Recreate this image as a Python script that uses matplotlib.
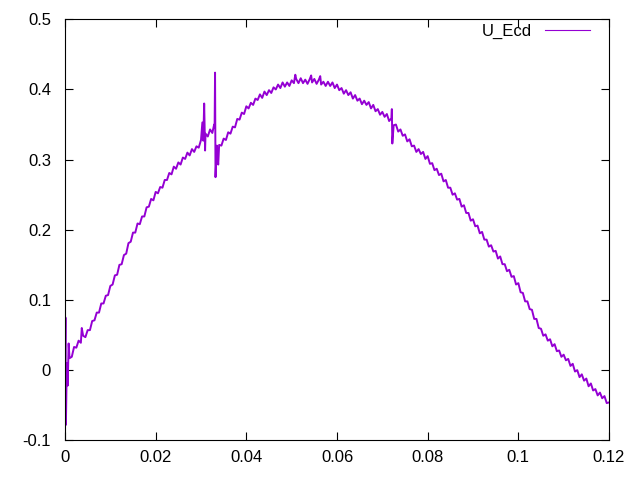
import numpy as np
import matplotlib
matplotlib.use("Agg")
import matplotlib.pyplot as plt
from matplotlib.lines import Line2D
from matplotlib.ticker import FormatStrFormatter

plt.rcParams["font.family"] = ["Liberation Sans", "DejaVu Sans"]
plt.rcParams["axes.unicode_minus"] = False

# sampled signal, one value per dt
dt = 0.0005
u_ecd = [
    0.004, 0.005, 0.017, 0.019, 0.033, 0.032, 0.042, 0.039, 0.049, 0.047,
    0.057, 0.057, 0.070, 0.071, 0.082, 0.082, 0.095, 0.095, 0.106, 0.107,
    0.120, 0.122, 0.135, 0.136, 0.150, 0.151, 0.164, 0.166, 0.181, 0.183,
    0.196, 0.196, 0.209, 0.208, 0.219, 0.219, 0.232, 0.233, 0.244, 0.242,
    0.254, 0.252, 0.261, 0.260, 0.271, 0.271, 0.281, 0.279, 0.290, 0.287,
    0.296, 0.293, 0.303, 0.301, 0.310, 0.306, 0.315, 0.311, 0.319, 0.317,
    0.328, 0.327, 0.337, 0.333, 0.343, 0.338, 0.345, 0.320, 0.321, 0.320,
    0.330, 0.328, 0.339, 0.337, 0.347, 0.346, 0.358, 0.357, 0.367, 0.365,
    0.376, 0.373, 0.381, 0.378, 0.387, 0.385, 0.393, 0.388, 0.397, 0.392,
    0.399, 0.395, 0.403, 0.400, 0.407, 0.402, 0.410, 0.404, 0.410, 0.405,
    0.413, 0.409, 0.415, 0.409, 0.416, 0.409, 0.414, 0.408, 0.415, 0.410,
    0.415, 0.408, 0.414, 0.407, 0.411, 0.405, 0.411, 0.405, 0.410, 0.402,
    0.407, 0.399, 0.402, 0.394, 0.399, 0.392, 0.396, 0.387, 0.392, 0.384,
    0.387, 0.379, 0.384, 0.378, 0.382, 0.373, 0.378, 0.369, 0.372, 0.364,
    0.368, 0.361, 0.365, 0.355, 0.359, 0.349, 0.350, 0.340, 0.343, 0.334,
    0.336, 0.326, 0.329, 0.319, 0.320, 0.311, 0.315, 0.308, 0.311, 0.301,
    0.305, 0.294, 0.295, 0.285, 0.287, 0.278, 0.280, 0.269, 0.271, 0.260,
    0.260, 0.250, 0.252, 0.243, 0.244, 0.233, 0.235, 0.224, 0.224, 0.213,
    0.215, 0.205, 0.206, 0.195, 0.197, 0.186, 0.186, 0.176, 0.178, 0.169,
    0.170, 0.159, 0.162, 0.151, 0.151, 0.141, 0.143, 0.133, 0.134, 0.122,
    0.124, 0.111, 0.110, 0.098, 0.098, 0.087, 0.086, 0.073, 0.073, 0.060,
    0.059, 0.049, 0.051, 0.042, 0.044, 0.034, 0.037, 0.027, 0.028, 0.019,
    0.022, 0.014, 0.016, 0.006, 0.009, -0.002, 0.000, -0.010, -0.006, -0.015,
    -0.012, -0.023, -0.019, -0.029, -0.027, -0.036, -0.032, -0.040, -0.037, -0.047,
    -0.046,
]

# short glitches in the signal
spike_x = [0.0001, 0.0002, 0.0004, 0.0006, 0.0008, 0.0037,
           0.0303, 0.0307, 0.0309, 0.0329, 0.0331, 0.0332, 0.0336, 0.0338,
           0.0508, 0.0543, 0.0563, 0.0721, 0.0722]
spike_y = [0.075, -0.078, 0.010, -0.022, 0.038, 0.060,
           0.353, 0.380, 0.313, 0.350, 0.424, 0.275, 0.305, 0.293,
           0.421, 0.420, 0.419, 0.372, 0.323]

x = np.concatenate([np.arange(len(u_ecd)) * dt, spike_x])
y = np.concatenate([u_ecd, spike_y])
order = np.argsort(x, kind="stable")
x, y = x[order], y[order]

fig = plt.figure(figsize=(6.4, 4.8), dpi=100)
ax = fig.add_axes([65 / 640, 1 - 440.3 / 480, 544 / 640, 421 / 480])

ax.plot(x, y, color="#9400d3", linewidth=1.4)

ax.set_xlim(0, 0.12)
ax.set_ylim(-0.1, 0.5)
ax.set_xticks(np.arange(0, 0.1201, 0.02))
ax.set_yticks(np.arange(-0.1, 0.501, 0.1))
ax.xaxis.set_major_formatter(FormatStrFormatter("%g"))
ax.yaxis.set_major_formatter(FormatStrFormatter("%g"))

for s in ax.spines.values():
    s.set_linewidth(0.8)
ax.tick_params(axis="both", direction="in", length=6, width=0.8,
               top=True, right=True, labelsize=12, colors="black")
ax.tick_params(axis="x", pad=7)
ax.tick_params(axis="y", pad=10)

key = Line2D([], [], color="#9400d3", linewidth=0.8)
ax.legend([key], ["U_Ecd"], loc="upper right", bbox_to_anchor=(0.965, 0.99),
          frameon=False, markerfirst=False, handlelength=2.7, handletextpad=0.8,
          borderpad=0, borderaxespad=0, fontsize=12)

fig.savefig("out.png", dpi=100)
